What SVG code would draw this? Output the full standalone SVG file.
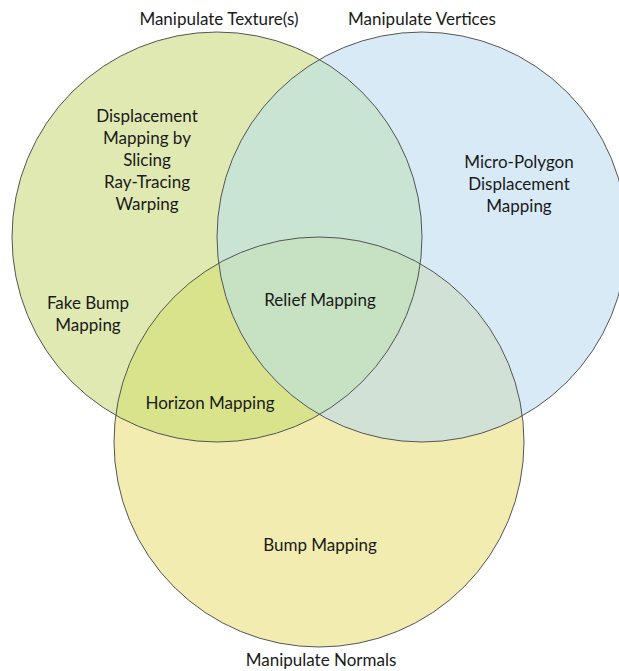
<svg xmlns="http://www.w3.org/2000/svg" width="619" height="671" viewBox="0 0 619 671">
  <style>
    text { font-family: Lato, "Liberation Sans", sans-serif; font-size: 17px; fill: #1a1a1a; text-anchor: middle; }
    .edge { fill: none; stroke: #555; stroke-width: 1; }
  </style>
  <defs>
    <clipPath id="inTex"><circle cx="217" cy="237" r="205"/></clipPath>
    <clipPath id="inVert"><circle cx="422" cy="237" r="205"/></clipPath>
    <clipPath id="inNorm"><circle cx="319" cy="442" r="205"/></clipPath>
  </defs>
  <rect width="619" height="671" fill="#fff"/>

  <!-- base sets -->
  <g id="set-normals"><circle cx="319" cy="442" r="205" fill="#f3ecb0"/></g>
  <g id="set-vertices"><circle cx="422" cy="237" r="205" fill="#d8eaf6"/></g>
  <g id="set-textures"><circle cx="217" cy="237" r="205" fill="#e0e9b2"/></g>

  <!-- overlaps -->
  <g id="overlaps">
    <circle cx="422" cy="237" r="205" fill="#c9e4d2" clip-path="url(#inTex)"/>
    <circle cx="319" cy="442" r="205" fill="#d9e38b" clip-path="url(#inTex)"/>
    <circle cx="319" cy="442" r="205" fill="#d2e1d5" clip-path="url(#inVert)"/>
    <g clip-path="url(#inTex)">
      <circle cx="319" cy="442" r="205" fill="#c7e2c3" clip-path="url(#inVert)"/>
    </g>
  </g>

  <!-- outlines -->
  <g id="outlines">
    <circle class="edge" cx="217" cy="237" r="205"/>
    <circle class="edge" cx="422" cy="237" r="205"/>
    <circle class="edge" cx="319" cy="442" r="205"/>
  </g>

  <!-- set titles -->
  <g id="titles">
    <text x="219" y="25">Manipulate Texture(s)</text>
    <text x="422" y="25">Manipulate Vertices</text>
    <text x="321" y="666">Manipulate Normals</text>
  </g>

  <!-- region labels -->
  <g id="label-displacement">
    <text x="147" y="122">Displacement</text>
    <text x="147" y="144">Mapping by</text>
    <text x="147" y="166">Slicing</text>
    <text x="147" y="188">Ray-Tracing</text>
    <text x="147" y="210">Warping</text>
  </g>
  <g id="label-fakebump">
    <text x="88" y="309">Fake Bump</text>
    <text x="88" y="331">Mapping</text>
  </g>
  <g id="label-micropolygon">
    <text x="519" y="168">Micro-Polygon</text>
    <text x="519" y="190">Displacement</text>
    <text x="519" y="212">Mapping</text>
  </g>
  <g id="label-relief"><text x="320" y="306">Relief Mapping</text></g>
  <g id="label-horizon"><text x="210" y="409">Horizon Mapping</text></g>
  <g id="label-bump"><text x="320" y="551">Bump Mapping</text></g>
</svg>
